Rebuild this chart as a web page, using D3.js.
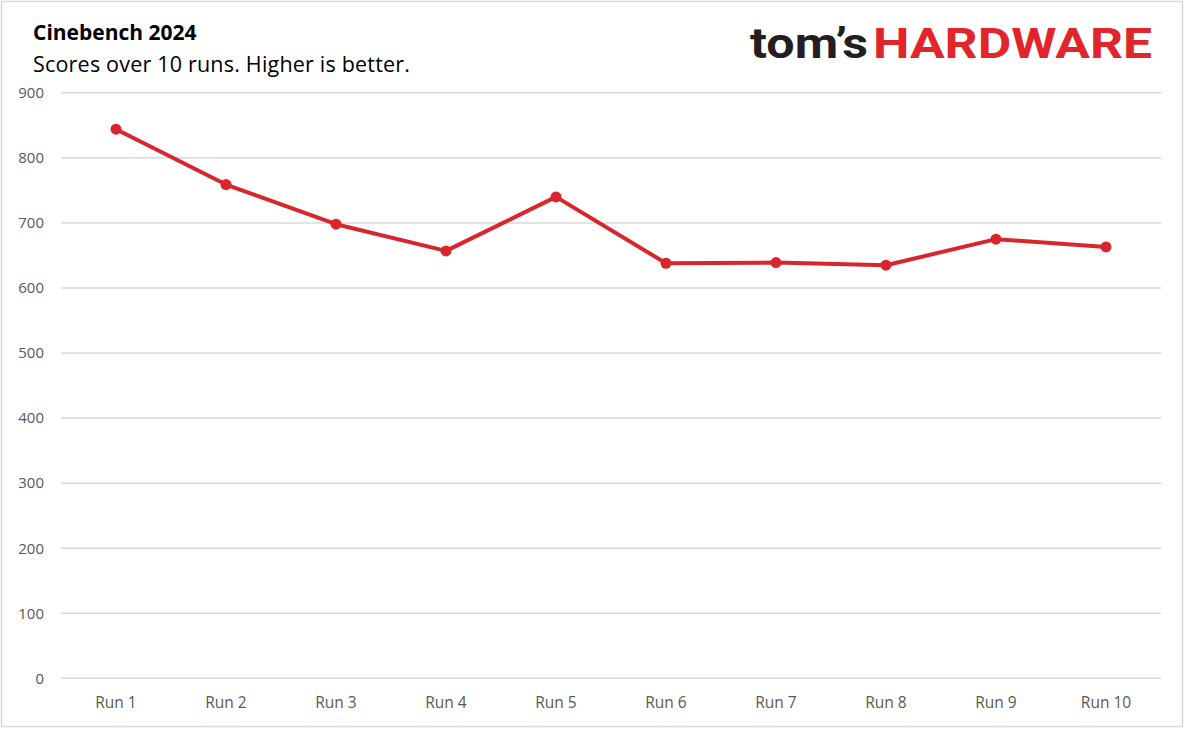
<!DOCTYPE html>
<html>
<head>
<meta charset="utf-8">
<script src="https://cdn.jsdelivr.net/npm/d3@7"></script>
<style>
  body { margin: 0; background: #fff; }
  svg { display: block; font-family: "Open Sans", "Noto Sans", sans-serif; }
</style>
</head>
<body>
<svg id="chart" width="1185" height="729"></svg>
<script>
const runs = ["Run 1", "Run 2", "Run 3", "Run 4", "Run 5", "Run 6", "Run 7", "Run 8", "Run 9", "Run 10"];
const scores = [844, 759, 698, 657, 740, 638, 639, 635, 675, 663];
const yTicks = [0, 100, 200, 300, 400, 500, 600, 700, 800, 900];

const svg = d3.select("#chart");
const red = "#d9262c";

// outer frame
svg.append("rect")
    .attr("x", 1.5).attr("y", 1.5)
    .attr("width", 1181).attr("height", 725)
    .attr("fill", "#fff")
    .attr("stroke", "#d9d9d9")
    .attr("stroke-width", 1.5);

const xScale = d3.scaleBand().domain(runs).range([61, 1161]);
const yScale = d3.scaleLinear().domain([0, 900]).range([678.3, 92.8]);

// gridlines
svg.append("g")
    .selectAll("line")
    .data(yTicks)
    .enter().append("line")
    .attr("x1", 61).attr("x2", 1161)
    .attr("y1", d => yScale(d)).attr("y2", d => yScale(d))
    .attr("stroke", "#d9d9d9")
    .attr("stroke-width", 1.5);

// y axis labels
const yAxis = svg.append("g")
    .attr("transform", "translate(44, 0)")
    .call(d3.axisLeft(yScale).tickValues(yTicks).tickSize(0).tickPadding(0));
yAxis.select(".domain").remove();
yAxis.selectAll("text")
    .attr("fill", "#595959")
    .style("font-size", "15px")
    .style("font-family", "'Open Sans', sans-serif");

// x axis labels
const xAxis = svg.append("g")
    .attr("transform", "translate(0, 697)")
    .call(d3.axisBottom(xScale).tickSize(0).tickPadding(0));
xAxis.select(".domain").remove();
xAxis.selectAll("text")
    .attr("fill", "#595959")
    .style("font-size", "15.5px")
    .style("font-family", "'Open Sans', sans-serif");

const data = runs.map((r, i) => ({ run: r, score: scores[i] }));
const cx = d => xScale(d.run) + xScale.bandwidth() / 2;

svg.append("path")
    .datum(data)
    .attr("fill", "none")
    .attr("stroke", red)
    .attr("stroke-width", 4)
    .attr("stroke-linejoin", "round")
    .attr("d", d3.line().x(cx).y(d => yScale(d.score)));

svg.selectAll(".dot")
    .data(data)
    .enter().append("circle")
    .attr("class", "dot")
    .attr("cx", cx)
    .attr("cy", d => yScale(d.score))
    .attr("r", 5.5)
    .attr("fill", red);

// titles
svg.append("text")
    .attr("x", 33).attr("y", 40)
    .style("font-size", "21px")
    .style("font-weight", "bold")
    .attr("fill", "#000")
    .text("Cinebench 2024");

svg.append("text")
    .attr("x", 33).attr("y", 72)
    .style("font-size", "21.5px")
    .style("letter-spacing", "0.2px")
    .attr("fill", "#000")
    .text("Scores over 10 runs. Higher is better.");

// logo
const logo = svg.append("g").style("font-family", "Roboto, 'DejaVu Sans', sans-serif").style("font-weight", "bold");
logo.append("text")
    .attr("x", 750).attr("y", 58)
    .attr("textLength", 118).attr("lengthAdjust", "spacingAndGlyphs")
    .style("font-size", "42px")
    .attr("fill", "#231f20")
    .text("tom’s");
logo.append("text")
    .attr("x", 873).attr("y", 58)
    .attr("textLength", 279).attr("lengthAdjust", "spacingAndGlyphs")
    .style("font-size", "42px")
    .attr("fill", "#e0262b")
    .text("HARDWARE");
</script>
</body>
</html>
